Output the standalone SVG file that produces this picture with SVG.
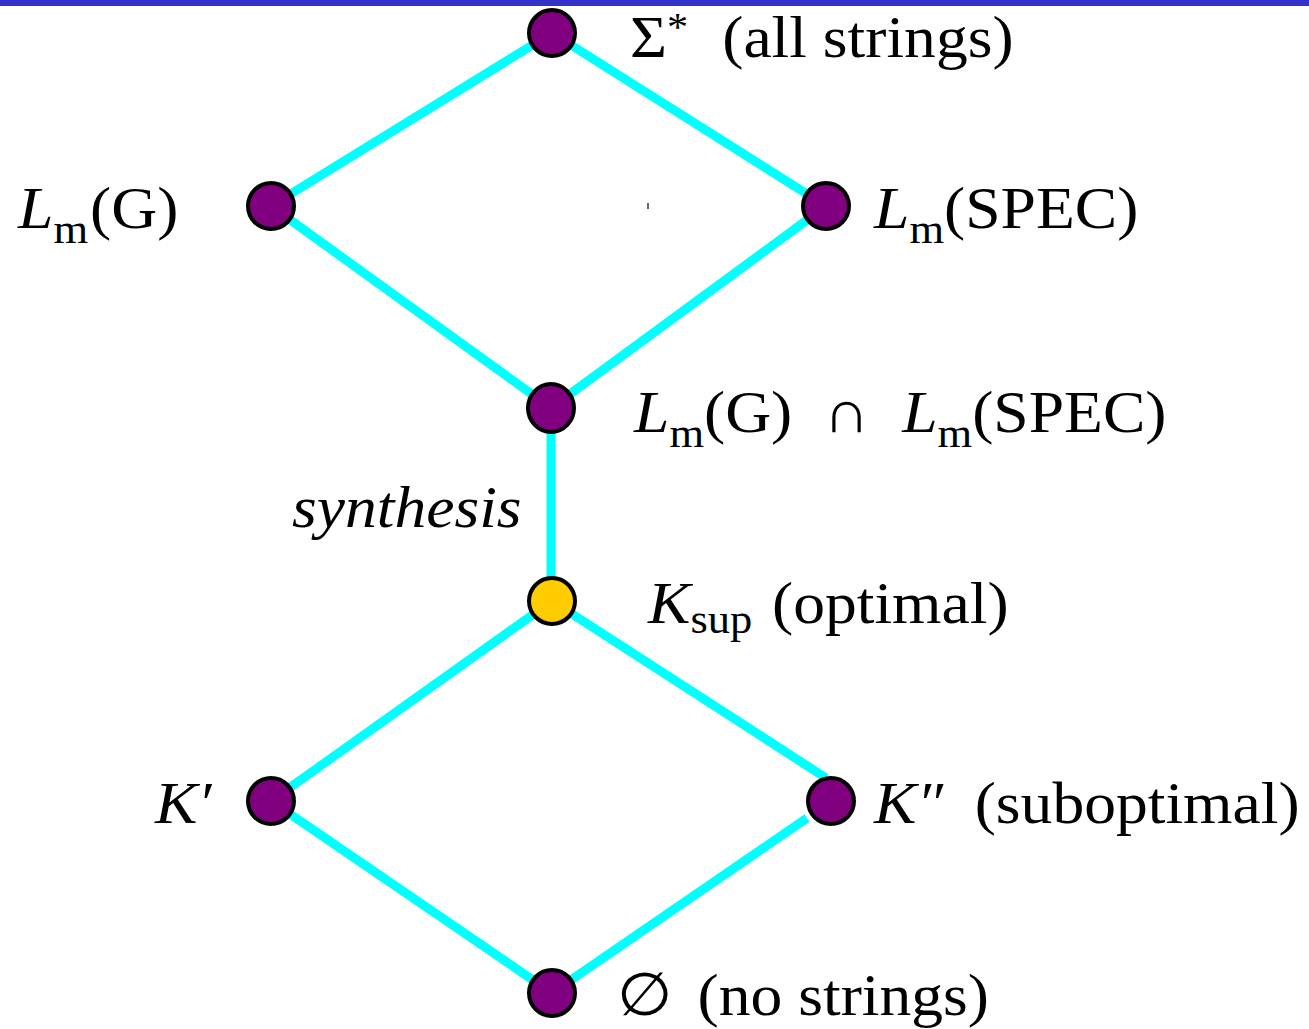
<svg xmlns="http://www.w3.org/2000/svg" width="1309" height="1029" viewBox="0 0 1309 1029">
<style>
.edge{stroke:#00FFFF;stroke-width:9;fill:none}
.node{fill:#800080;stroke:#000;stroke-width:4}
.opt{fill:#FFCC00;stroke:#000;stroke-width:4}
.t{font-family:"Liberation Serif","Times New Roman",serif;font-size:60px;fill:#000}
.i{font-style:italic}
.sub{font-size:42px}
</style>
<rect x="0" y="0" width="1309" height="1029" fill="#fff"/>
<rect x="0" y="0" width="1309" height="6" fill="#3333CC"/>
<rect x="647" y="203" width="2" height="6" fill="#666"/>
<g id="connectors">
<line class="edge" x1="552" y1="33" x2="271" y2="206"/>
<line class="edge" x1="552" y1="33" x2="826" y2="206"/>
<line class="edge" x1="271" y1="206" x2="551" y2="408"/>
<line class="edge" x1="826" y1="206" x2="551" y2="408"/>
<line class="edge" x1="551" y1="408" x2="551" y2="601"/>
<line class="edge" x1="552" y1="601" x2="271" y2="801"/>
<line class="edge" x1="552" y1="601" x2="826" y2="778"/>
<line class="edge" x1="271" y1="801" x2="552" y2="993"/>
<line class="edge" x1="807" y1="818" x2="552" y2="993"/>
</g>
<g id="n-all">
<circle class="node" cx="552" cy="33" r="23"/>
<text class="t" transform="translate(630,57) scale(1.06,1)">Σ<tspan font-size="40" dy="-17">*</tspan><tspan dy="17" x="87">(all strings)</tspan></text>
</g>
<g id="n-lmg">
<circle class="node" cx="271" cy="206" r="23"/>
<text class="t" transform="translate(18,228) scale(1.06,1)"><tspan class="i">L</tspan><tspan class="sub" dy="15">m</tspan><tspan dy="-15" dx="2">(G)</tspan></text>
</g>
<g id="n-lmspec">
<circle class="node" cx="826" cy="206" r="23"/>
<text class="t" transform="translate(874,228) scale(1.06,1)"><tspan class="i">L</tspan><tspan class="sub" dy="15">m</tspan><tspan dy="-15">(SPEC)</tspan></text>
</g>
<g id="n-inter">
<ellipse class="node" cx="551" cy="408" rx="23" ry="24"/>
<text class="t" transform="translate(634,432) scale(1.06,1)"><tspan class="i">L</tspan><tspan class="sub" dy="15">m</tspan><tspan dy="-15">(G)</tspan><tspan x="179">∩</tspan><tspan class="i" x="253">L</tspan><tspan class="sub" dy="15">m</tspan><tspan dy="-15">(SPEC)</tspan></text>
</g>
<g id="synthesis-label">
<text class="t i" transform="translate(292,527) scale(1.06,1)">synthesis</text>
</g>
<g id="n-ksup">
<circle class="opt" cx="552" cy="601" r="23"/>
<text class="t" transform="translate(648,623) scale(1.06,1)"><tspan class="i">K</tspan><tspan class="sub" dy="10">sup</tspan><tspan dy="-10" x="117">(optimal)</tspan></text>
</g>
<g id="n-k1">
<circle class="node" cx="271" cy="801" r="23"/>
<text class="t i" transform="translate(155,823) scale(1.06,1)">K′</text>
</g>
<g id="n-k2">
<circle class="node" cx="831" cy="801" r="23"/>
<text class="t" transform="translate(874,823) scale(1.06,1)"><tspan class="i">K″</tspan><tspan x="95">(suboptimal)</tspan></text>
</g>
<g id="n-empty">
<circle class="node" cx="552" cy="993" r="23"/>
<text class="t" transform="translate(617,1015) scale(1.06,1)">∅<tspan x="76">(no strings)</tspan></text>
</g>
</svg>
